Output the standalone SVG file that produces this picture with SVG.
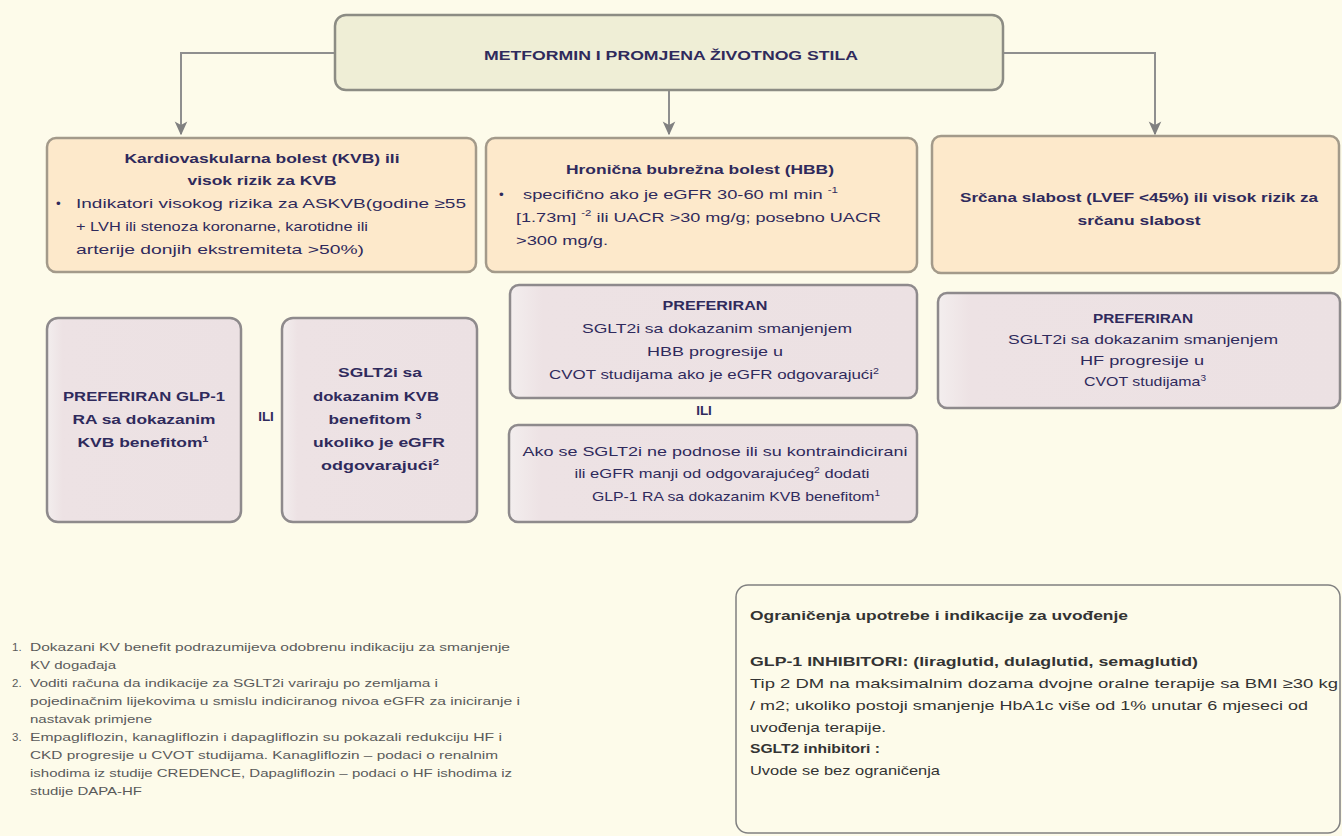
<svg xmlns="http://www.w3.org/2000/svg" width="1342" height="836" viewBox="0 0 1342 836">
<style>
text{font-family:"Liberation Sans",Arial,sans-serif;}
.t{fill:#2f2a5c;font-size:13.5px;}
.b{font-weight:bold;}
.c{text-anchor:middle;}
.fn{fill:#5a5a5a;font-size:11.5px;}
.bx{fill:#333333;font-size:13.5px;}
.peach{fill:#fde9cb;stroke:#a39a8a;stroke-width:2.5;}
.lav{fill:url(#lavg);stroke:#8e8a8c;stroke-width:2.5;}
.top{fill:#efeed6;stroke:#8c8c84;stroke-width:2.5;}
.note{fill:#fdfbea;stroke:#808080;stroke-width:1.5;}
.con{fill:none;stroke:#8f8f8f;stroke-width:2;}
.sup{font-size:8.5px;}
</style>
<defs>
<linearGradient id="lavg" x1="0" y1="0" x2="1" y2="0">
<stop offset="0" stop-color="#f3eeee"/>
<stop offset="0.08" stop-color="#ede2e4"/>
<stop offset="1" stop-color="#ece1e3"/>
</linearGradient>
<marker id="ah" viewBox="0 0 10 10" refX="9" refY="5" markerWidth="7" markerHeight="7" orient="auto">
<path d="M0,0.5 L10,5 L0,9.5 L2.5,5 z" fill="#808080"/>
</marker>
</defs>
<rect width="1342" height="836" fill="#fdfbea"/>

<g id="connectors">
<path class="con" d="M335,53 H181 V134" marker-end="url(#ah)"/>
<path class="con" d="M669,90 V134" marker-end="url(#ah)"/>
<path class="con" d="M1003,53 H1155 V134" marker-end="url(#ah)"/>
</g>

<g id="metformin">
<rect class="top" x="335" y="15" width="668" height="75" rx="11"/>
<text class="t b c" x="671" y="60" font-size="13" textLength="374" lengthAdjust="spacingAndGlyphs">METFORMIN I PROMJENA ŽIVOTNOG STILA</text>
</g>

<g id="kvb">
<rect class="peach" x="47" y="138" width="429" height="134" rx="9"/>
<text class="t b c" x="262" y="163" textLength="275" lengthAdjust="spacingAndGlyphs">Kardiovaskularna bolest (KVB) ili</text>
<text class="t b c" x="262" y="185" textLength="149" lengthAdjust="spacingAndGlyphs">visok rizik za KVB</text>
<text class="t" x="56" y="208">•</text>
<text class="t" x="76" y="208" textLength="390" lengthAdjust="spacingAndGlyphs">Indikatori visokog rizika za ASKVB(godine ≥55</text>
<text class="t" x="76" y="231" textLength="292" lengthAdjust="spacingAndGlyphs">+ LVH ili stenoza koronarne, karotidne ili</text>
<text class="t" x="76" y="254" textLength="288" lengthAdjust="spacingAndGlyphs">arterije donjih ekstremiteta &gt;50%)</text>
</g>

<g id="hbb">
<rect class="peach" x="486" y="138" width="431" height="134" rx="9"/>
<text class="t b c" x="700" y="174" textLength="268" lengthAdjust="spacingAndGlyphs">Hronična bubrežna bolest (HBB)</text>
<text class="t" x="499" y="199">•</text>
<text class="t" x="523" y="199" textLength="315" lengthAdjust="spacingAndGlyphs">specifično ako je eGFR 30-60 ml min <tspan class="sup" dy="-6">-1</tspan></text>
<text class="t" x="516" y="222" textLength="365" lengthAdjust="spacingAndGlyphs">[1.73m] <tspan class="sup" dy="-6">-2</tspan><tspan dy="6"> ili UACR &gt;30 mg/g; posebno UACR</tspan></text>
<text class="t" x="516" y="245" textLength="92" lengthAdjust="spacingAndGlyphs">&gt;300 mg/g.</text>
</g>

<g id="hf">
<rect class="peach" x="932" y="136" width="407" height="137" rx="9"/>
<text class="t b c" x="1139" y="202" textLength="358" lengthAdjust="spacingAndGlyphs">Srčana slabost (LVEF &lt;45%) ili visok rizik za</text>
<text class="t b c" x="1139" y="225" textLength="123" lengthAdjust="spacingAndGlyphs">srčanu slabost</text>
</g>

<g id="glp1">
<rect class="lav" x="47" y="318" width="194" height="204" rx="11"/>
<text class="t b c" x="144" y="401" textLength="162" lengthAdjust="spacingAndGlyphs">PREFERIRAN GLP-1</text>
<text class="t b c" x="144" y="424" textLength="143" lengthAdjust="spacingAndGlyphs">RA sa dokazanim</text>
<text class="t b c" x="143" y="447" textLength="131" lengthAdjust="spacingAndGlyphs">KVB benefitom<tspan class="sup" dy="-5">1</tspan></text>
</g>

<g id="ili1">
<text class="t b c" x="266" y="421" font-size="11">ILI</text>
</g>

<g id="sglt2-kvb">
<rect class="lav" x="282" y="318" width="195" height="204" rx="11"/>
<text class="t b c" x="380" y="377" textLength="84" lengthAdjust="spacingAndGlyphs">SGLT2i sa</text>
<text class="t b c" x="376" y="401" textLength="126" lengthAdjust="spacingAndGlyphs">dokazanim KVB</text>
<text class="t b c" x="375" y="424" textLength="93" lengthAdjust="spacingAndGlyphs">benefitom <tspan class="sup" dy="-5">3</tspan></text>
<text class="t b c" x="379" y="447" textLength="132" lengthAdjust="spacingAndGlyphs">ukoliko je eGFR</text>
<text class="t b c" x="380" y="470" textLength="118" lengthAdjust="spacingAndGlyphs">odgovarajući<tspan class="sup" dy="-5">2</tspan></text>
</g>

<g id="sglt2-hbb">
<rect class="lav" x="510" y="285" width="407" height="113" rx="9"/>
<text class="t b c" x="715" y="310" font-size="12.5" textLength="105" lengthAdjust="spacingAndGlyphs">PREFERIRAN</text>
<text class="t c" x="717" y="333" textLength="270" lengthAdjust="spacingAndGlyphs">SGLT2i sa dokazanim smanjenjem</text>
<text class="t c" x="715" y="356" textLength="136" lengthAdjust="spacingAndGlyphs">HBB progresije u</text>
<text class="t c" x="714" y="379" textLength="330" lengthAdjust="spacingAndGlyphs">CVOT studijama ako je eGFR odgovarajući<tspan class="sup" dy="-5">2</tspan></text>
</g>

<g id="ili2">
<text class="t b c" x="704" y="415" font-size="11">ILI</text>
</g>

<g id="glp1-alt">
<rect class="lav" x="509" y="425" width="408" height="97" rx="9"/>
<text class="t c" x="715" y="456" textLength="385" lengthAdjust="spacingAndGlyphs">Ako se SGLT2i ne podnose ili su kontraindicirani</text>
<text class="t c" x="722" y="478" textLength="295" lengthAdjust="spacingAndGlyphs">ili eGFR manji od odgovarajućeg<tspan class="sup" dy="-5">2</tspan><tspan dy="5"> dodati</tspan></text>
<text class="t c" x="736" y="501" textLength="288" lengthAdjust="spacingAndGlyphs">GLP-1 RA sa dokazanim KVB benefitom<tspan class="sup" dy="-5">1</tspan></text>
</g>

<g id="sglt2-hf">
<rect class="lav" x="938" y="293" width="402" height="115" rx="9"/>
<text class="t b c" x="1143" y="323" font-size="12.5" textLength="100" lengthAdjust="spacingAndGlyphs">PREFERIRAN</text>
<text class="t c" x="1143" y="344" textLength="270" lengthAdjust="spacingAndGlyphs">SGLT2i sa dokazanim smanjenjem</text>
<text class="t c" x="1142" y="365" textLength="124" lengthAdjust="spacingAndGlyphs">HF progresije u</text>
<text class="t c" x="1145" y="386" textLength="122" lengthAdjust="spacingAndGlyphs">CVOT studijama<tspan class="sup" dy="-5">3</tspan></text>
</g>

<g id="footnotes">
<text class="fn" x="12" y="651">1.</text>
<text class="fn" x="30" y="651" textLength="480" lengthAdjust="spacingAndGlyphs">Dokazani KV benefit podrazumijeva odobrenu indikaciju za smanjenje</text>
<text class="fn" x="30" y="669" textLength="86" lengthAdjust="spacingAndGlyphs">KV događaja</text>
<text class="fn" x="12" y="687">2.</text>
<text class="fn" x="30" y="687" textLength="408" lengthAdjust="spacingAndGlyphs">Voditi računa da indikacije za SGLT2i variraju po zemljama i</text>
<text class="fn" x="30" y="705" textLength="490" lengthAdjust="spacingAndGlyphs">pojedinačnim lijekovima u smislu indiciranog nivoa eGFR za iniciranje i</text>
<text class="fn" x="30" y="723" textLength="122" lengthAdjust="spacingAndGlyphs">nastavak primjene</text>
<text class="fn" x="12" y="741">3.</text>
<text class="fn" x="30" y="741" textLength="472" lengthAdjust="spacingAndGlyphs">Empagliflozin, kanagliflozin i dapagliflozin su pokazali redukciju HF i</text>
<text class="fn" x="30" y="759" textLength="468" lengthAdjust="spacingAndGlyphs">CKD progresije u CVOT studijama. Kanagliflozin – podaci o renalnim</text>
<text class="fn" x="30" y="777" textLength="482" lengthAdjust="spacingAndGlyphs">ishodima iz studije CREDENCE, Dapagliflozin – podaci o HF ishodima iz</text>
<text class="fn" x="30" y="795" textLength="112" lengthAdjust="spacingAndGlyphs">studije DAPA-HF</text>
</g>

<g id="ogranicenja">
<rect class="note" x="736" y="585" width="604" height="248" rx="12"/>
<text class="bx b" x="750" y="620" textLength="378" lengthAdjust="spacingAndGlyphs">Ograničenja upotrebe i indikacije za uvođenje</text>
<text class="bx b" x="750" y="666" textLength="448" lengthAdjust="spacingAndGlyphs">GLP-1 INHIBITORI: (liraglutid, dulaglutid, semaglutid)</text>
<text class="bx" x="750" y="688" textLength="588" lengthAdjust="spacingAndGlyphs">Tip 2 DM na maksimalnim dozama dvojne oralne terapije  sa  BMI ≥30 kg</text>
<text class="bx" x="750" y="710" textLength="558" lengthAdjust="spacingAndGlyphs">/ m2; ukoliko postoji smanjenje HbA1c više od 1% unutar 6 mjeseci od</text>
<text class="bx" x="750" y="732" textLength="136" lengthAdjust="spacingAndGlyphs">uvođenja terapije.</text>
<text class="bx b" x="750" y="753" textLength="130" lengthAdjust="spacingAndGlyphs">SGLT2 inhibitori :</text>
<text class="bx" x="750" y="775" textLength="190" lengthAdjust="spacingAndGlyphs">Uvode se bez ograničenja</text>
</g>
</svg>
